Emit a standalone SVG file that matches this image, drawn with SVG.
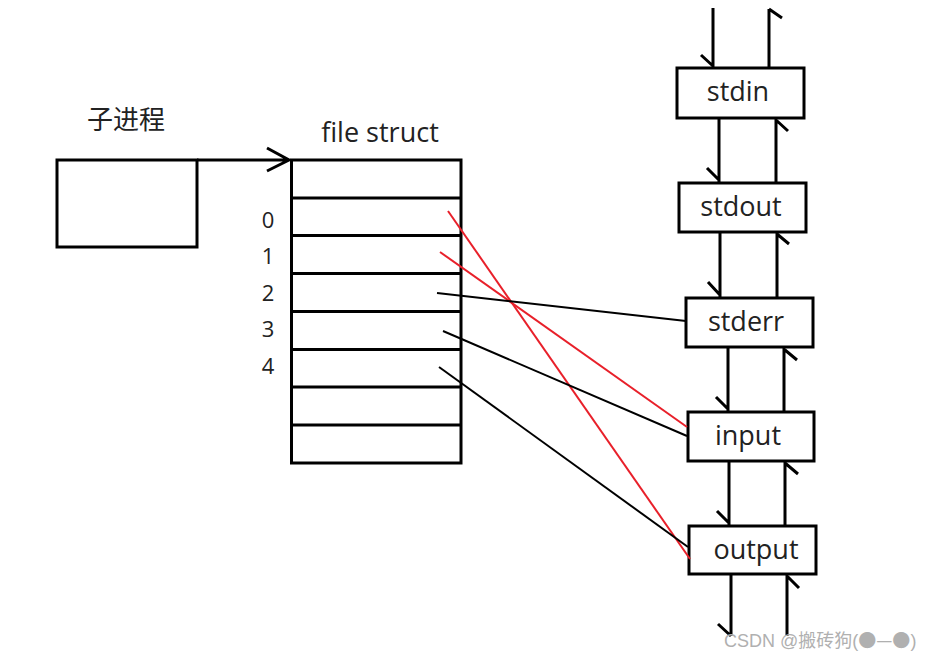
<svg xmlns="http://www.w3.org/2000/svg" width="942" height="661" viewBox="0 0 942 661">
<style>
.box{fill:#fff;stroke:#000;stroke-width:3}
.ln{stroke:#000;stroke-width:3;fill:none}
.con{stroke:#000;stroke-width:2;fill:none}
.red{stroke:#e8202a;stroke-width:2;fill:none}
.t{font-family:"Open Sans","Noto Sans",sans-serif;font-size:27px;fill:#222}
.n{font-family:"Open Sans","Noto Sans",sans-serif;font-size:22px;fill:#222}
.cjk{font-family:"Noto Sans CJK SC",sans-serif;font-size:26px;fill:#222}
.wm{font-family:"Liberation Sans","Noto Sans CJK SC",sans-serif;font-size:18px;fill:#b0b0b0}
.wc{font-family:"Noto Sans CJK SC",sans-serif}
</style>
<rect width="942" height="661" fill="#fff"/>
<g id="child">
<text class="cjk" x="87" y="129">子进程</text>
<rect class="box" x="57" y="160" width="140" height="87"/>
</g>
<g id="filestruct">
<text class="t" x="380" y="142" text-anchor="middle">file struct</text>
<rect class="box" x="291.5" y="160" width="169.5" height="303"/>
<path class="ln" d="M291.5 198H461M291.5 235.5H461M291.5 273.5H461M291.5 311.5H461M291.5 349.5H461M291.5 387H461M291.5 425H461"/>
<text class="n" x="268" y="228" text-anchor="middle">0</text>
<text class="n" x="268" y="264" text-anchor="middle">1</text>
<text class="n" x="268" y="301" text-anchor="middle">2</text>
<text class="n" x="268" y="337" text-anchor="middle">3</text>
<text class="n" x="268" y="374" text-anchor="middle">4</text>
</g>
<g id="stdin"><rect class="box" x="677" y="68" width="127" height="50"/><text class="t" x="738" y="101" text-anchor="middle">stdin</text></g>
<g id="stdout"><rect class="box" x="679" y="183" width="127" height="49"/><text class="t" x="741" y="216" text-anchor="middle">stdout</text></g>
<g id="stderr"><rect class="box" x="686" y="298" width="127" height="49"/><text class="t" x="746" y="331" text-anchor="middle">stderr</text></g>
<g id="input"><rect class="box" x="688" y="412" width="126" height="49"/><text class="t" x="748" y="445" text-anchor="middle">input</text></g>
<g id="output"><rect class="box" x="689" y="526" width="127" height="48"/><text class="t" x="756" y="559" text-anchor="middle">output</text></g>
<g id="connectors">
<path class="ln" d="M197 160H288M267 148L289 160L267 171"/>
<path class="ln" d="M713 8V67M701 55L713 66"/>
<path class="ln" d="M769 68V9M769 9L782 18"/>
<path class="ln" d="M719 118V182M707 168L719 180"/>
<path class="ln" d="M776 183V119M776 120L788 131"/>
<path class="ln" d="M720 232V297M708 282L720 295"/>
<path class="ln" d="M777 298V233M777 234L789 244"/>
<path class="ln" d="M728 347V411M716 397L728 409"/>
<path class="ln" d="M784 412V348M785 350L797 360"/>
<path class="ln" d="M729 461V525M717 511L729 523"/>
<path class="ln" d="M785 526V462M785 463L798 474"/>
<path class="ln" d="M731 574V636M718 624L731 636"/>
<path class="ln" d="M787 636V575M787 576L799 588"/>
<path class="red" d="M448 211L690 559"/>
<path class="red" d="M440 252L687 427"/>
<path class="con" d="M437 293L686 321"/>
<path class="con" d="M443 331L687 436"/>
<path class="con" d="M439 367L688 547"/>
</g>
<text class="wm" x="724" y="647">CSDN @搬砖狗(<tspan class="wc">●—●</tspan>)</text>
</svg>
